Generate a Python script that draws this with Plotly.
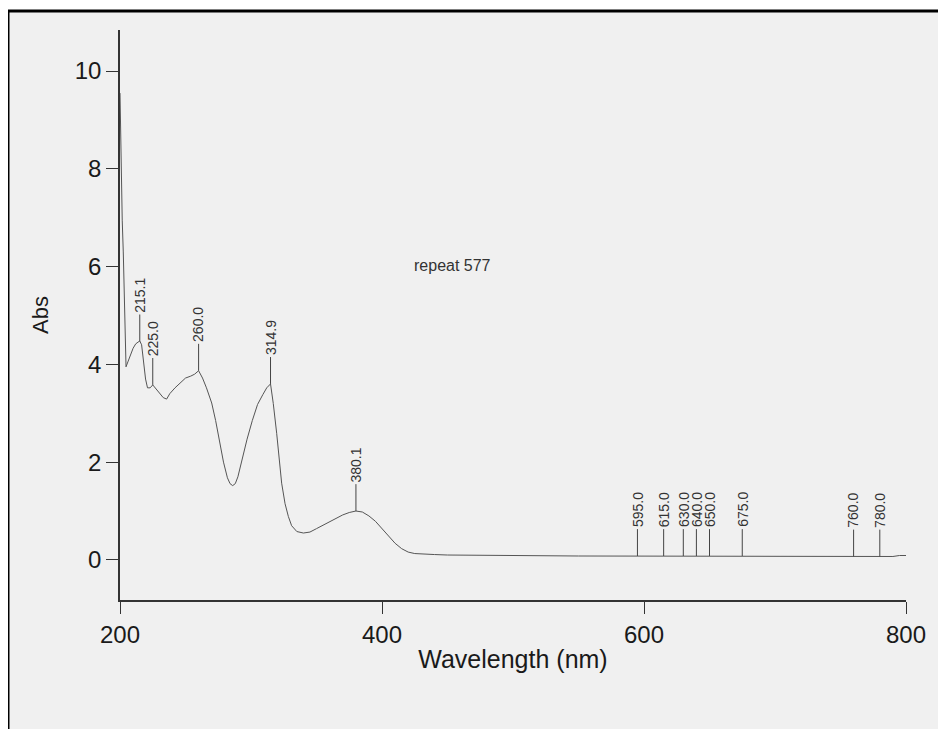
import plotly.graph_objects as go

# spectrum
wavelength = [200, 200.5, 201, 201.7, 202.5, 203.2, 203.8, 204.6, 206, 208, 210, 212, 214, 215.1,
              216.5, 218, 219.5, 221, 223, 225, 227, 230, 233, 235.6, 238, 242, 246, 250, 254, 257,
              260, 263, 266, 270, 273, 276, 279, 282, 284, 286, 288, 290, 293, 297, 301, 305, 309,
              312, 314.9, 317, 319.6, 321.5, 323.4, 326, 328.5, 331, 335, 340, 345, 350, 355, 360,
              365, 370, 375, 380.1, 385, 390, 395, 400, 405, 410, 415, 420, 425, 430, 440, 450, 470,
              500, 550, 600, 650, 700, 710, 750, 790, 795, 800]
absorb = [9.55, 8.65, 7.85, 6.95, 6.3, 5.6, 4.7, 3.95, 4.05, 4.2, 4.33, 4.42, 4.47, 4.48,
          4.4, 4.1, 3.7, 3.52, 3.52, 3.58, 3.52, 3.42, 3.32, 3.29, 3.4, 3.52, 3.63, 3.72, 3.76, 3.8,
          3.87, 3.72, 3.52, 3.21, 2.85, 2.39, 2.0, 1.68, 1.56, 1.52, 1.56, 1.7, 2.05, 2.47, 2.85,
          3.18, 3.38, 3.52, 3.6, 3.2, 2.59, 2.05, 1.57, 1.15, 0.89, 0.7, 0.58, 0.55, 0.57, 0.64,
          0.71, 0.78, 0.85, 0.92, 0.97, 1.0, 0.98, 0.9, 0.79, 0.64, 0.48, 0.34, 0.23, 0.16, 0.13,
          0.12, 0.11, 0.1, 0.09, 0.09, 0.08, 0.08, 0.08, 0.08, 0.07, 0.07, 0.07, 0.09, 0.09]

# picked peaks
peak_wl = [215.1, 225.0, 260.0, 314.9, 380.1, 595.0, 615.0, 630.0, 640.0, 650.0, 675.0, 760.0, 780.0]
peak_abs = [4.47, 3.58, 3.87, 3.6, 1.0, 0.08, 0.08, 0.08, 0.08, 0.08, 0.08, 0.07, 0.07]
peak_labels = ["215.1", "225.0", "260.0", "314.9", "380.1", "595.0", "615.0",
               "630.0", "640.0", "650.0", "675.0", "760.0", "780.0"]
stem = 0.55

font = "Liberation Sans, Arial, sans-serif"

fig = go.Figure()
fig.add_trace(go.Scatter(x=wavelength, y=absorb, mode="lines",
                         line=dict(color="#555555", width=1), showlegend=False))

# stems above the peaks
sx, sy = [], []
for w, a in zip(peak_wl, peak_abs):
    sx += [w, w, None]
    sy += [a, a + stem, None]
fig.add_trace(go.Scatter(x=sx, y=sy, mode="lines",
                         line=dict(color="#444444", width=1), showlegend=False))

for w, a, t in zip(peak_wl, peak_abs, peak_labels):
    fig.add_annotation(x=w, y=a + stem, text=t, showarrow=False, textangle=-90,
                       xanchor="center", yanchor="bottom",
                       font=dict(family=font, size=14, color="#333333"))

fig.add_annotation(x=423, y=6.03, text="repeat 577", showarrow=False,
                   xanchor="left", yanchor="middle",
                   font=dict(family=font, size=16, color="#333333"))

# scanned page frame
fig.add_shape(type="rect", xref="paper", yref="paper",
              x0=-0.1425, x1=1.2, y0=-0.4, y1=1.0333,
              line=dict(color="black", width=3), fillcolor="#f0f0f0", layer="below")

# page body has an 8px margin, so the figure is shrunk and shifted to match
fig.update_layout(
    width=938, height=721,
    margin=dict(l=112, r=40, t=22, b=129),
    paper_bgcolor="white", plot_bgcolor="rgba(0,0,0,0)",
    font=dict(family=font, color="#1a1a1a"))
fig.update_xaxes(range=[200, 800], tickvals=[200, 400, 600, 800], ticks="outside", ticklen=12,
                 tickcolor="#333333", showline=True, linecolor="#333333", linewidth=1.5,
                 showgrid=False, zeroline=False, tickfont=dict(size=24),
                 title=dict(text="Wavelength (nm)", font=dict(size=25), standoff=4))
fig.update_yaxes(range=[-0.82, 10.84], tickvals=[0, 2, 4, 6, 8, 10], ticks="outside", ticklen=12,
                 tickcolor="#333333", showline=True, linecolor="#333333", linewidth=1.5,
                 showgrid=False, zeroline=False, tickfont=dict(size=24),
                 title=dict(text="Abs", font=dict(size=22), standoff=20))

fig.write_html("out.html")
